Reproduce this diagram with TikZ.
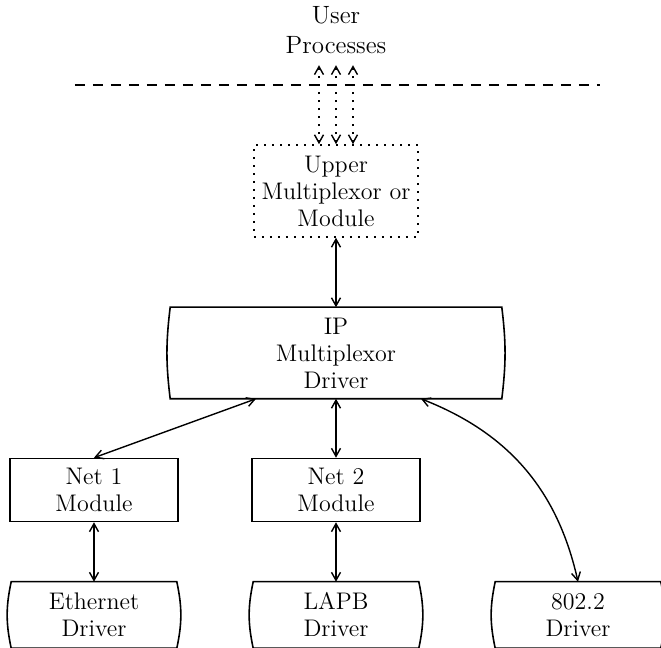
\documentclass[tikz,border=0pt]{standalone}
\usetikzlibrary{positioning, arrows.meta}

\begin{document}
\begin{tikzpicture}[x=0.5pt,y=0.5pt,node distance=2cm,on grid,
    >={Straight Barb[length=4pt,width=4.5pt]}, line width=0.8pt,
    every node/.style={font=\fontsize{12}{13.5}\selectfont, align=center},
    box/.style={draw, minimum width=84pt, minimum height=31.5pt},
    driver/.style={minimum width=82pt, minimum height=32.5pt},
    dots/.style={dash pattern=on 1pt off 3pt},
    conn/.style={<->, line width=0.7pt}]
  \useasboundingbox (0,0) rectangle (661,-648);

  \node[box, dots, minimum width=82pt, minimum height=46pt] (upper) at (336,-191) {Upper\\Multiplexor or\\Module};
  \node (user) [above=80.5pt of upper, font=\fontsize{12.5}{15}\selectfont] {User\\Processes};
  \node[driver, minimum width=165pt, minimum height=45pt] (ip) [below=81pt of upper] {IP\\Multiplexor\\Driver};
  \node[box] (net2) [below=68.5pt of ip] {Net 2\\Module};
  \node[box] (net1) [left=121pt of net2] {Net 1\\Module};
  \node[driver] (lapb) [below=62.5pt of net2] {LAPB\\Driver};
  \node[driver] (eth) [left=121pt of lapb] {Ethernet\\Driver};
  \node[driver] (llc) [right=121pt of lapb] {802.2\\Driver};

  % driver outlines with bowed sides
  \foreach \n/\b in {ip/7, eth/12, lapb/12, llc/12}
    \draw (\n.north west) to[bend right=\b] (\n.south west) -- (\n.south east)
      to[bend right=\b] (\n.north east) -- cycle;

  % kernel / user boundary
  \coordinate (dl) at (75,-85);
  \coordinate (dr) at (600,-85);
  \draw[dash pattern=on 5pt off 4pt] (dl) -- (dr);

  \coordinate[above=39.5pt of upper.north] (p2);
  \coordinate[left=8.5pt of p2] (p1);
  \coordinate[right=8.5pt of p2] (p3);
  \foreach \i/\dx in {1/-8.5pt, 2/0pt, 3/8.5pt}
    \draw[conn, dots] ([xshift=\dx]upper.north) -- (p\i);

  \draw[conn] (upper) -- (ip);
  \draw[conn] (net1.north) -- ([xshift=-40pt]ip.south);
  \draw[conn] (ip) -- (net2);
  \draw[conn] (net2) -- (lapb);
  \draw[conn] (net1) -- (eth);
  \draw[conn] ([xshift=42.5pt]ip.south) to[bend left=28] (llc.north);
\end{tikzpicture}
\end{document}
